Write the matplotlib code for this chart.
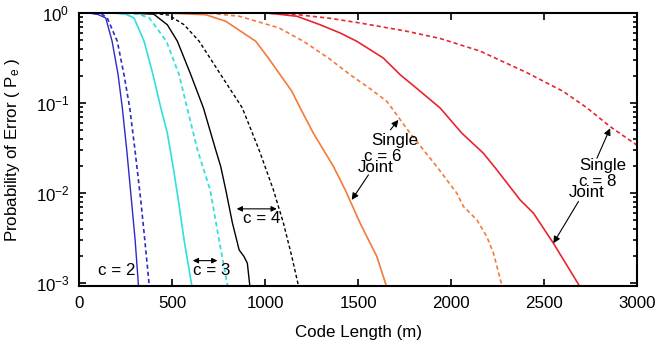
import matplotlib
matplotlib.use("Agg")
import matplotlib.pyplot as plt
from matplotlib.ticker import LogLocator, MultipleLocator, NullFormatter

plt.rcParams['font.family'] = ['Liberation Sans', 'DejaVu Sans']
plt.rcParams['mathtext.fontset'] = 'custom'
plt.rcParams['mathtext.rm'] = 'Liberation Sans'
plt.rcParams['mathtext.it'] = 'Liberation Sans:italic'
plt.rcParams['font.size'] = 12.2

# code length (m) vs probability of error
c2_joint_x = [60, 100, 142, 176, 208, 231, 255, 280, 300, 318]
c2_joint_p = [1.0, 0.97, 0.887, 0.49, 0.21, 0.089, 0.030, 0.0084, 0.0030, 0.00093]
c2_single_x = [80, 120, 150, 204, 240, 271, 299, 330, 352, 376]
c2_single_p = [1.0, 0.98, 0.887, 0.489, 0.208, 0.0887, 0.0303, 0.0084, 0.0030, 0.00093]

c3_joint_x = [200, 250, 294, 348, 396, 438, 473, 504, 532, 563, 604]
c3_joint_p = [1.0, 0.977, 0.887, 0.489, 0.208, 0.0887, 0.0465, 0.0198, 0.00843, 0.00303, 0.00095]
c3_single_x = [250, 320, 376, 468, 536, 575, 635, 703, 751, 796]
c3_single_p = [1.0, 0.977, 0.887, 0.489, 0.208, 0.0964, 0.0303, 0.0109, 0.00303, 0.00095]

c4_joint_x = [300, 400, 473, 527, 599, 667, 733, 760, 787, 823, 859, 885, 903, 916]
c4_joint_p = [1.0, 0.977, 0.746, 0.489, 0.208, 0.0887, 0.0303, 0.0198, 0.0109, 0.00465,
              0.00234, 0.00198, 0.00167, 0.00095]
c4_single_x = [400, 480, 563, 644, 760, 876, 966, 1043, 1097, 1142, 1177]
c4_single_p = [1.0, 0.955, 0.746, 0.489, 0.208, 0.0887, 0.0303, 0.0109, 0.00465, 0.00198, 0.00095]

c6_joint_x = [500, 680, 787, 948, 1016, 1079, 1142, 1187, 1258, 1366, 1429, 1509, 1599, 1649]
c6_joint_p = [1.0, 0.964, 0.815, 0.489, 0.318, 0.208, 0.136, 0.0887, 0.0465, 0.0198, 0.0109,
              0.00465, 0.00198, 0.00095]
c6_single_x = [700, 860, 1074, 1204, 1339, 1455, 1563, 1653, 1778, 1921, 2029, 2065, 2137,
               2190, 2226, 2271]
c6_single_p = [1.0, 0.927, 0.687, 0.489, 0.318, 0.208, 0.145, 0.105, 0.0465, 0.0198, 0.0100,
               0.00711, 0.00505, 0.00330, 0.00215, 0.00095]

c8_joint_x = [1025, 1169, 1294, 1402, 1491, 1634, 1724, 1832, 1939, 2056, 2172, 2244, 2369,
              2441, 2548, 2690]
c8_joint_p = [1.0, 0.927, 0.746, 0.604, 0.489, 0.318, 0.208, 0.136, 0.0887, 0.0465, 0.0278,
              0.0182, 0.00843, 0.0060, 0.00278, 0.00092]
c8_single_x = [1025, 1149, 1348, 1509, 1760, 1939, 2154, 2405, 2602, 2728, 2853, 3000]
c8_single_p = [1.0, 0.977, 0.879, 0.780, 0.631, 0.525, 0.380, 0.219, 0.135, 0.0891, 0.0550, 0.0339]

blue = '#2b2bc8'
cyan = '#33dede'
orange = '#f47a3a'
red = '#e8262e'
dash = (2.5, 1.8)

fig = plt.figure(figsize=(6.65, 3.46), dpi=100)
ax = fig.add_axes([0.1193, 0.1734, 0.8393, 0.7882])

ax.plot(c2_joint_x, c2_joint_p, color=blue, lw=1.0)
ax.plot(c2_single_x, c2_single_p, color=blue, lw=1.2, dashes=dash)
ax.plot(c3_joint_x, c3_joint_p, color=cyan, lw=1.2)
ax.plot(c3_single_x, c3_single_p, color=cyan, lw=1.3, dashes=dash)
ax.plot(c4_joint_x, c4_joint_p, color='k', lw=1.0)
ax.plot(c4_single_x, c4_single_p, color='k', lw=1.0, dashes=dash)
ax.plot(c6_joint_x, c6_joint_p, color=orange, lw=1.2)
ax.plot(c6_single_x, c6_single_p, color=orange, lw=1.2, dashes=dash)
ax.plot(c8_joint_x, c8_joint_p, color=red, lw=1.2)
ax.plot(c8_single_x, c8_single_p, color=red, lw=1.2, dashes=dash)

ax.set_yscale('log')
ax.set_xlim(0, 3000)
ax.set_ylim(9.3e-4, 1.0)
ax.xaxis.set_major_locator(MultipleLocator(500))
ax.yaxis.set_major_locator(LogLocator(base=10, numticks=10))
ax.yaxis.set_minor_locator(LogLocator(base=10, subs=range(2, 10), numticks=20))
ax.yaxis.set_minor_formatter(NullFormatter())
ax.tick_params(which='both', direction='in', top=True, right=True, width=1.2)
ax.tick_params(which='major', length=5, pad=7)
ax.tick_params(which='minor', length=3)
for s in ax.spines.values():
    s.set_linewidth(1.5)

ax.set_xlabel('Code Length (m)', labelpad=10)
ax.set_ylabel(r'Probability of Error ( P$_\mathregular{e}$ )', labelpad=10)

arrow1 = dict(arrowstyle='-|>', color='k', lw=0.8, mutation_scale=10, shrinkA=0, shrinkB=0)
arrow2 = dict(arrowstyle='<|-|>', color='k', lw=0.8, mutation_scale=8, shrinkA=0, shrinkB=0)

ax.text(203, 1.4e-3, 'c = 2', ha='center', va='center')

ax.annotate('', xy=(610, 1.78e-3), xytext=(742, 1.78e-3), arrowprops=arrow2)
ax.text(610, 1.38e-3, 'c = 3', ha='left', va='center')

ax.annotate('', xy=(846, 6.7e-3), xytext=(1061, 6.7e-3), arrowprops=arrow2)
ax.text(878, 5.3e-3, 'c = 4', ha='left', va='center')

ax.text(1698, 0.039, 'Single', ha='center', va='center')
ax.text(1633, 0.0255, 'c = 6', ha='center', va='center')
ax.text(1590, 0.0191, 'Joint', ha='center', va='center')
ax.annotate('', xy=(1715, 0.0653), xytext=(1672, 0.0506), arrowprops=arrow1)
ax.annotate('', xy=(1464, 0.00843), xytext=(1554, 0.0160), arrowprops=arrow1)

ax.text(2816, 0.0201, 'Single', ha='center', va='center')
ax.text(2785, 0.0135, 'c = 8', ha='center', va='center')
ax.text(2729, 0.0102, 'Joint', ha='center', va='center')
ax.annotate('', xy=(2853, 0.0527), xytext=(2782, 0.0245), arrowprops=arrow1)
ax.annotate('', xy=(2548, 0.00278), xytext=(2683, 0.0081), arrowprops=arrow1)

fig.savefig('out.png', dpi=100)
